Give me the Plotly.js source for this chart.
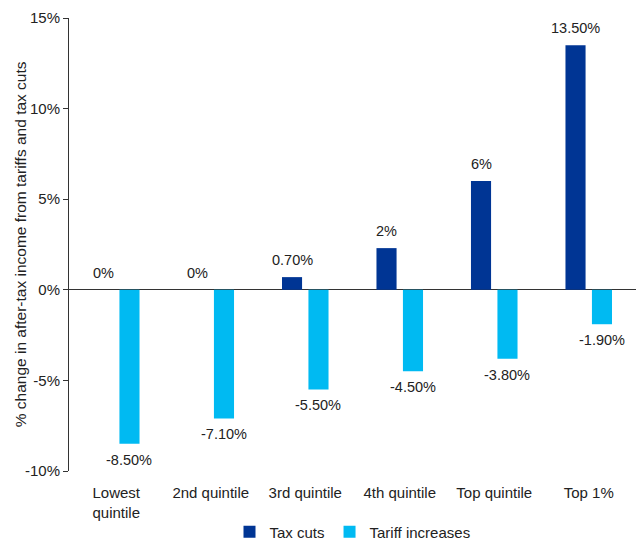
<!DOCTYPE html>
<html>
<head>
<meta charset="utf-8">
<script src="https://cdn.plot.ly/plotly-3.0.1.min.js"></script>
<style>html,body{margin:0;padding:0;background:#fff;}#chart{width:636px;height:544px;}</style>
</head>
<body>
<div id="chart"></div>
<script>
const categories = ["Lowest<br>quintile", "2nd quintile", "3rd quintile", "4th quintile", "Top quintile", "Top 1%"];
const taxCuts = [0, 0, 0.7, 2.3, 6, 13.5];
const taxCutLabels = ["0%", "0%", "0.70%", "2%", "6%", "13.50%"];
const tariffIncreases = [-8.5, -7.1, -5.5, -4.5, -3.8, -1.9];
const tariffLabels = ["-8.50%", "-7.10%", "-5.50%", "-4.50%", "-3.80%", "-1.90%"];
const yTickVals = [-10, -5, 0, 5, 10, 15];
const yTickText = ["-10%", "-5%", "0%", "5%", "10%", "15%"];

const font = "Liberation Sans, Arial, sans-serif";
const bargap = 0.44, bargroupgap = 0.24;
const plotW = 636 - 69;
const slot = plotW / categories.length * (1 - bargap) / 2;
const half = slot / 2;

const traces = [
  {type: "bar", name: "Tax cuts", x: categories, y: taxCuts,
   marker: {color: "#003594"}, hoverinfo: "none"},
  {type: "bar", name: "Tariff increases", x: categories, y: tariffIncreases,
   marker: {color: "#00BAF2"}, hoverinfo: "none"}
];

const labelFont = {family: font, size: 14.5, color: "#222"};
const annotations = [];
categories.forEach((c, i) => {
  annotations.push({x: c, y: taxCuts[i], xref: "x", yref: "y", text: taxCutLabels[i], showarrow: false,
    xshift: -half, yshift: 17, xanchor: "center", yanchor: "middle", font: labelFont});
  annotations.push({x: c, y: tariffIncreases[i], xref: "x", yref: "y", text: tariffLabels[i], showarrow: false,
    xshift: half, yshift: -16, xanchor: "center", yanchor: "middle", font: labelFont});
});
annotations.push({text: "% change in after-tax income from tariffs and tax cuts", textangle: -90,
  xref: "paper", yref: "paper", x: -0.085, y: 0.5, xanchor: "center", yanchor: "middle",
  showarrow: false, font: {family: font, size: 15.5, color: "#222"}});

const layout = {
  width: 636, height: 544,
  margin: {l: 69, r: 0, t: 18, b: 73},
  paper_bgcolor: "#fff", plot_bgcolor: "#fff",
  font: {family: font, size: 15, color: "#222"},
  barmode: "group", bargap: bargap, bargroupgap: bargroupgap,
  showlegend: true,
  legend: {orientation: "h", x: 0.5, xanchor: "center", yref: "container", y: 0.022, yanchor: "middle",
           font: {family: font, size: 15, color: "#222"}, itemwidth: 30},
  xaxis: {type: "category", showline: false, ticks: "", showgrid: false, zeroline: false,
          ticklabelstandoff: 11,
          tickfont: {family: font, size: 15, color: "#222"}, automargin: false},
  yaxis: {range: [-10, 15], tickvals: yTickVals, ticktext: yTickText, ticks: "outside", ticklen: 5,
          tickcolor: "#333", showline: true, linecolor: "#333", linewidth: 1, showgrid: false,
          zeroline: true, zerolinecolor: "#333", zerolinewidth: 1,
          tickfont: {family: font, size: 15, color: "#222"}, automargin: false},
  annotations: annotations
};
Plotly.newPlot("chart", traces, layout, {displayModeBar: false, staticPlot: true});
</script>
</body>
</html>
